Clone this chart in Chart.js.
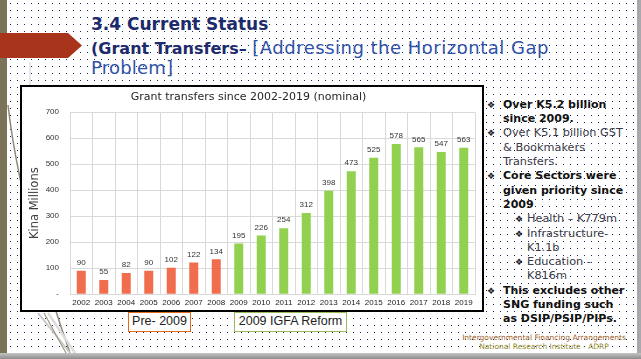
<!DOCTYPE html>
<html>
<head>
<meta charset="utf-8">
<script src="https://cdn.jsdelivr.net/npm/chart.js@4.4.0/dist/chart.umd.min.js"></script>
<style>
  html, body { margin: 0; padding: 0; }
  body {
    width: 641px; height: 359px; position: relative; overflow: hidden;
    background-color: #fff;
    background-image: url("data:image/svg+xml;utf8,<svg xmlns='http://www.w3.org/2000/svg' width='7' height='7'><rect x='3' y='3' width='1' height='1' fill='%231b2456'/></svg>");
    font-family: "DejaVu Sans", sans-serif;
  }
  .abs { position: absolute; }
  #leftBar { left: 0; top: 0; width: 7px; height: 353px; background: #7b7358; }
  #rightBar { left: 637px; top: 0; width: 4px; height: 353px; background: #a9a9ad; }
  #bottomBar { left: 0; top: 353px; width: 641px; height: 6px; background: linear-gradient(#c4c4c4, #8c8c8c); }
  #title { left: 91px; top: 15.6px; font-size: 17px; line-height: 17px; font-weight: bold; color: #1d2a6c; white-space: nowrap; }
  #sub1 { left: 91px; top: 39px; line-height: 18px; white-space: nowrap; }
  #sub2 { left: 91px; top: 59px; line-height: 18px; white-space: nowrap; font-size: 18px; color: #2f52a8; letter-spacing: 0.2px; }
  .subBold { font-size: 16px; font-weight: bold; color: #1d2a6c; }
  .subReg { font-size: 18px; color: #2f52a8; letter-spacing: 0.5px; }
  #chartBox { left: 20px; top: 85px; width: 464px; height: 227px; box-sizing: border-box; border: 2px solid #000; background: #fff; }
  #chartBox canvas { position: absolute; left: 0; top: 0; }
  .tag { top: 312px; height: 20px; box-sizing: border-box; background: #fff; font-family: "Liberation Sans", sans-serif;
         font-size: 12.5px; line-height: 17px; text-align: center; color: #222; }
  #tagPre { left: 128px; width: 63px; border: 1.5px solid #e36c1c; }
  #tagPost { left: 234px; width: 113px; border: 1.5px solid #9bbb59; }
  #notes { left: 484px; top: 97.85px; width: 154px; }
  .ln { height: 14.3px; line-height: 14.3px; white-space: nowrap; font-size: 11.3px; color: #3a3a48; position: relative; }
  .ln.b { font-weight: bold; font-size: 11px; color: #111; }
  .ln span.bul { position: absolute; font-size: 9px; font-weight: normal; color: #1b1b2b; }
  #footer { left: 444px; top: 333px; width: 200px; text-align: center; font-size: 7.5px; line-height: 9px; white-space: nowrap; }
</style>
</head>
<body>
<div id="leftBar" class="abs"></div>
<svg class="abs" style="left:0;top:0" width="641" height="359">
  <path d="M 8 105 Q 20 210 70 353" stroke="#8f887a" stroke-width="1.5" fill="none"/>
  <path d="M 30 62 L 30 85" stroke="#cfcfcf" stroke-width="1" fill="none"/>
  <path d="M 38 313 L 70 353" stroke="#c8c8c8" stroke-width="2" fill="none"/>
  <path d="M 44 313 L 66 353" stroke="#9c9684" stroke-width="1.2" fill="none"/>
  <path d="M 48 313 L 75 353" stroke="#dcdcdc" stroke-width="2.5" fill="none"/>
  <polygon points="0,33 68,33 82,45.5 68,58 0,58" fill="#a8341b"/>
</svg>
<div id="rightBar" class="abs"></div>
<div id="bottomBar" class="abs"></div>

<div id="title" class="abs">3.4 Current Status</div>
<div id="sub1" class="abs"><span class="subBold">(Grant Transfers– </span><span class="subReg">[Addressing the Horizontal Gap</span></div>
<div id="sub2" class="abs">Problem]</div>

<div id="chartBox" class="abs"><canvas id="grantChart" width="460" height="223"></canvas></div>

<div id="tagPre" class="abs tag">Pre- 2009</div>
<div id="tagPost" class="abs tag">2009 IGFA Reform</div>

<div id="notes" class="abs">
  <div class="ln b"><span class="bul" style="left:3px">❖</span><span style="margin-left:19px">Over K5.2 billion</span></div>
  <div class="ln b"><span style="margin-left:19px">since 2009.</span></div>
  <div class="ln"><span class="bul" style="left:3px">❖</span><span style="margin-left:19px">Over K5.1 billion GST</span></div>
  <div class="ln"><span style="margin-left:19px">&amp; Bookmakers</span></div>
  <div class="ln"><span style="margin-left:19px">Transfers.</span></div>
  <div class="ln b"><span class="bul" style="left:3px">❖</span><span style="margin-left:19px">Core Sectors were</span></div>
  <div class="ln b"><span style="margin-left:19px">given priority since</span></div>
  <div class="ln b"><span style="margin-left:19px">2009</span></div>
  <div class="ln"><span class="bul" style="left:31px">❖</span><span style="margin-left:43px">Health – K779m</span></div>
  <div class="ln"><span class="bul" style="left:31px">❖</span><span style="margin-left:43px">Infrastructure-</span></div>
  <div class="ln"><span style="margin-left:43px">K1.1b</span></div>
  <div class="ln"><span class="bul" style="left:31px">❖</span><span style="margin-left:43px">Education -</span></div>
  <div class="ln"><span style="margin-left:43px">K816m</span></div>
  <div class="ln b"><span class="bul" style="left:3px">❖</span><span style="margin-left:19px">This excludes other</span></div>
  <div class="ln b"><span style="margin-left:19px">SNG funding such</span></div>
  <div class="ln b"><span style="margin-left:19px">as DSIP/PSIP/PIPs.</span></div>
</div>

<div id="footer" class="abs">
  <div style="color:#9d5f2a">Intergovernmental Financing Arrangements</div>
  <div style="color:#8f8a2c">National Research Institute - ADRP</div>
</div>

<script>
// 데이터
const years = ["2002", "2003", "2004", "2005", "2006", "2007", "2008", "2009", "2010",
  "2011", "2012", "2013", "2014", "2015", "2016", "2017", "2018", "2019"];
const grantValues = [90, 55, 82, 90, 102, 122, 134, 195, 226, 254, 312, 398, 473, 525, 578, 565, 547, 563];
const reformYear = 2009;
const yMax = 700;
const yStep = 100;

const preColor = "#f06e4e";
const postColor = "#92d050";
const gridColor = "#d9d9d9";

// 막대 위 값 표시
const valueLabels = {
  id: "valueLabels",
  afterDatasetsDraw(chart) {
    const ctx = chart.ctx;
    const meta = chart.getDatasetMeta(0);
    ctx.save();
    ctx.font = '8px "Liberation Sans"';
    ctx.fillStyle = "#333";
    ctx.textAlign = "center";
    ctx.textBaseline = "middle";
    meta.data.forEach((bar, i) => {
      ctx.fillText(grantValues[i], bar.x, bar.y - 8);
    });
    ctx.restore();
  },
};

const ctx = document.getElementById("grantChart").getContext("2d");
const grantChart = new Chart(ctx, {
  type: "bar",
  data: {
    labels: years,
    datasets: [
      {
        data: grantValues,
        backgroundColor: years.map((y) => (Number(y) < reformYear ? preColor : postColor)),
        barPercentage: 0.4,
        categoryPercentage: 1,
      },
    ],
  },
  options: {
    responsive: false,
    animation: false,
    layout: { padding: { left: 0, right: 7, top: 0, bottom: 0 } },
    plugins: {
      legend: { display: false },
      tooltip: { enabled: false },
      title: {
        display: true,
        text: "Grant transfers since 2002-2019 (nominal)",
        color: "#262626",
        font: { family: "DejaVu Sans", size: 11, weight: "normal" },
        padding: { top: 4, bottom: 8 },
      },
    },
    scales: {
      x: {
        grid: { color: gridColor, drawTicks: false },
        border: { color: gridColor },
        ticks: {
          color: "#222",
          font: { family: "Liberation Sans", size: 8 },
          padding: 4,
          maxRotation: 0,
          autoSkip: false,
        },
        afterFit(scale) {
          scale.height = 15.7;
        },
      },
      y: {
        min: 0,
        max: yMax,
        grid: { color: gridColor, drawTicks: false },
        border: { display: false },
        ticks: {
          stepSize: yStep,
          color: "#333",
          font: { family: "Liberation Sans", size: 8 },
          padding: 11,
          callback: (v) => (v === 0 ? "-" : v),
        },
        title: {
          display: true,
          text: "Kina Millions",
          color: "#404040",
          font: { family: "DejaVu Sans", size: 11.5 },
          padding: { top: 6, bottom: 0 },
        },
        afterFit(scale) {
          scale.width = 48;
        },
      },
    },
  },
  plugins: [valueLabels],
});
</script>
</body>
</html>
